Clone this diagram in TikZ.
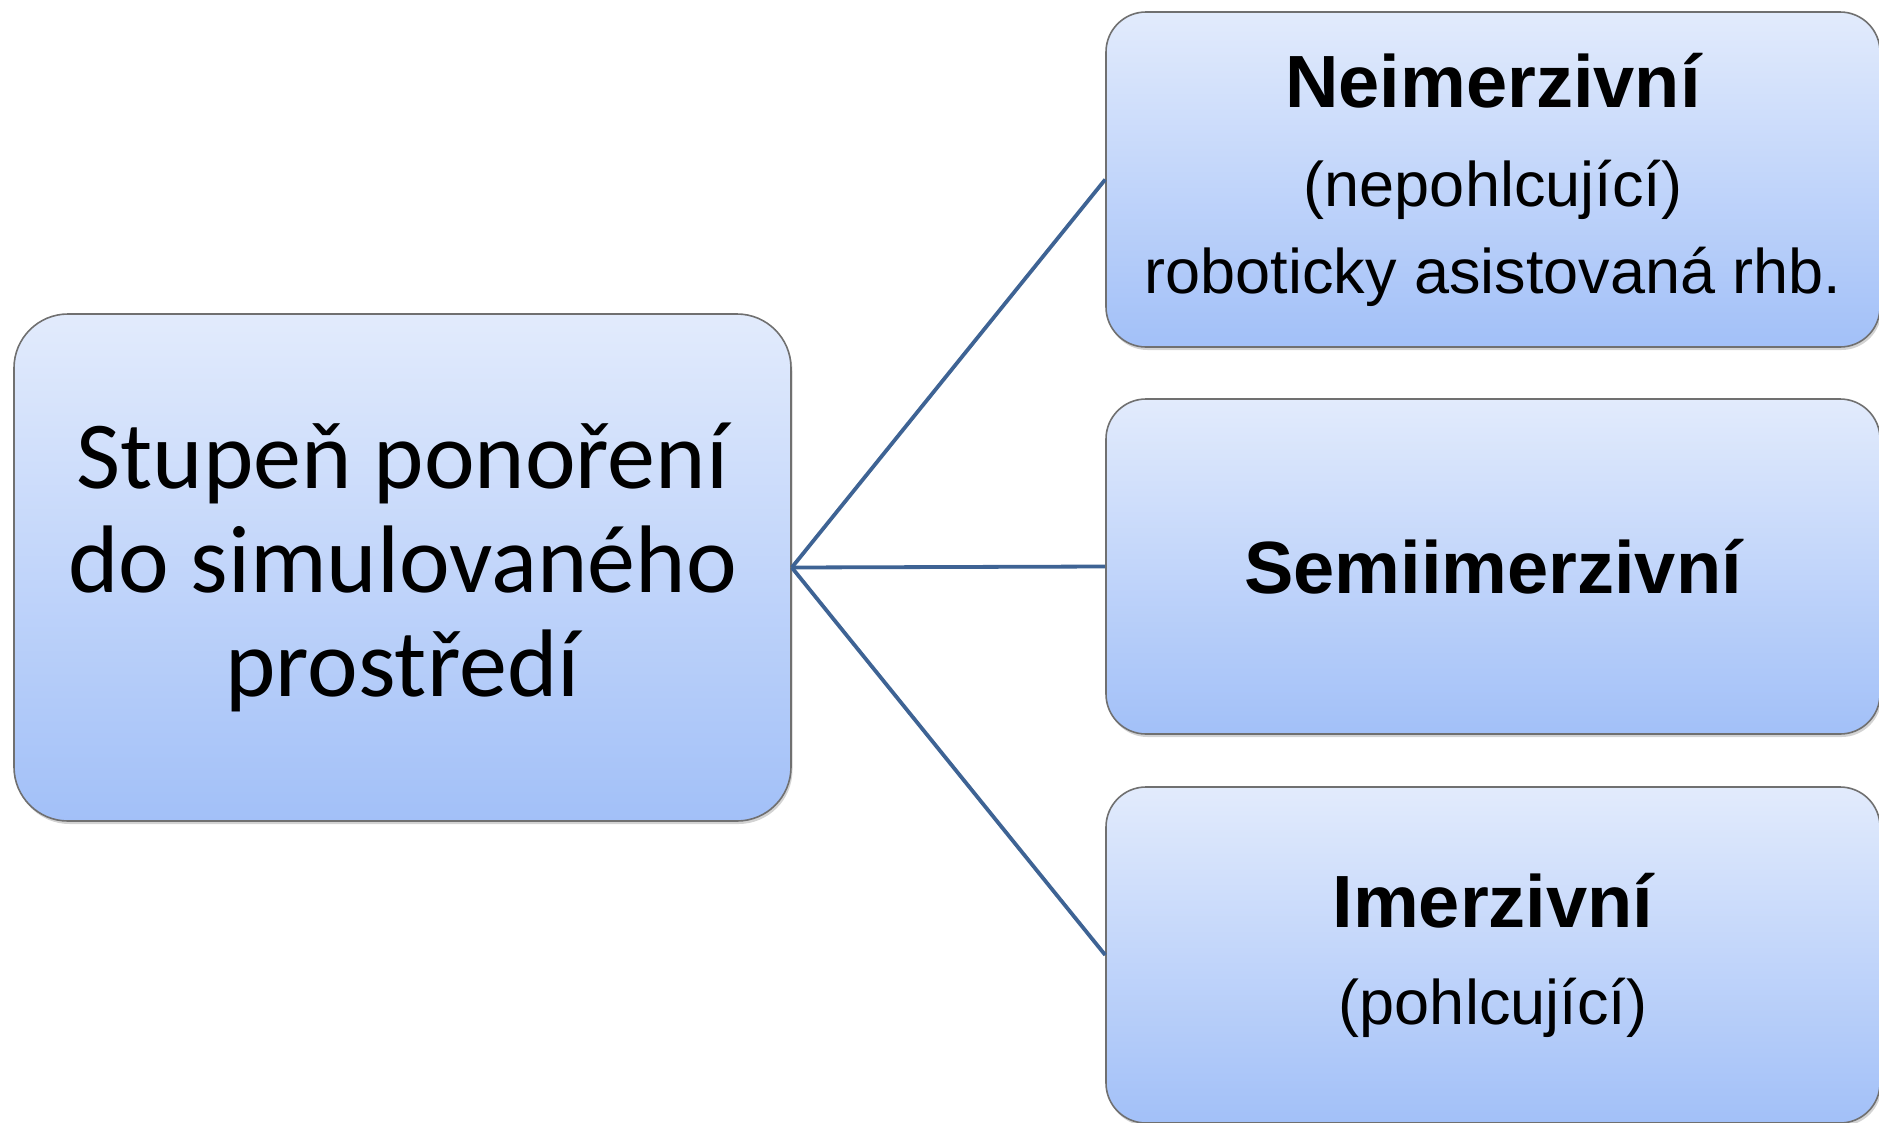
\documentclass[tikz,border=0pt]{standalone}
\usepackage{fontspec}
\usepackage{tikz}
\usetikzlibrary{shadows}
\newfontfamily\calfont{Carlito}
\newfontfamily\arialfont{Liberation Sans}
\definecolor{boxtop}{RGB}{226,235,252}
\definecolor{boxbottom}{RGB}{162,192,248}
\definecolor{boxline}{RGB}{112,112,112}
\definecolor{linkblue}{RGB}{62,99,148}

\begin{document}
\begin{tikzpicture}[x=1pt,y=-1pt,
    levelbox/.style={draw=boxline, line width=1.6pt, top color=boxtop, bottom color=boxbottom,
        drop shadow={shadow xshift=1.5pt, shadow yshift=-3pt, opacity=0.35},
        align=center, inner sep=0pt},
    link/.style={draw=linkblue, line width=3.8pt}]

\useasboundingbox (0,0) rectangle (1879,1122);

\coordinate (root) at (402.5,567.5);
\coordinate (non) at (1493,179.5);
\coordinate (semi) at (1493,566.5);
\coordinate (imm) at (1493,955);

\node [levelbox, rounded corners=54pt, minimum width=777pt, minimum height=507pt,
    font=\calfont\fontsize{96}{104}\selectfont] (stupen) at (root)
    {Stupeň ponoření\\do simulovaného\\prostředí};

\node [levelbox, rounded corners=40pt, minimum width=774pt, minimum height=335pt,
    font=\arialfont\fontsize{63}{87}\selectfont] (neimerz) at (non)
    {{\bfseries\fontsize{74}{99}\selectfont Neimerzivní}\\[12pt](nepohlcující)\\roboticky asistovaná rhb.};

\node [levelbox, rounded corners=40pt, minimum width=774pt, minimum height=335pt,
    font=\arialfont\bfseries\fontsize{74}{99}\selectfont] (semiimerz) at (semi)
    {Semiimerzivní};

\node [levelbox, rounded corners=40pt, minimum width=774pt, minimum height=336pt,
    font=\arialfont\fontsize{63}{87}\selectfont] (imerz) at (imm)
    {{\bfseries\fontsize{74}{99}\selectfont Imerzivní}\\[10pt](pohlcující)};

\foreach \j in {neimerz,semiimerz,imerz}
    \draw [link] (stupen.east) -- (\j.west);

\end{tikzpicture}
\end{document}
